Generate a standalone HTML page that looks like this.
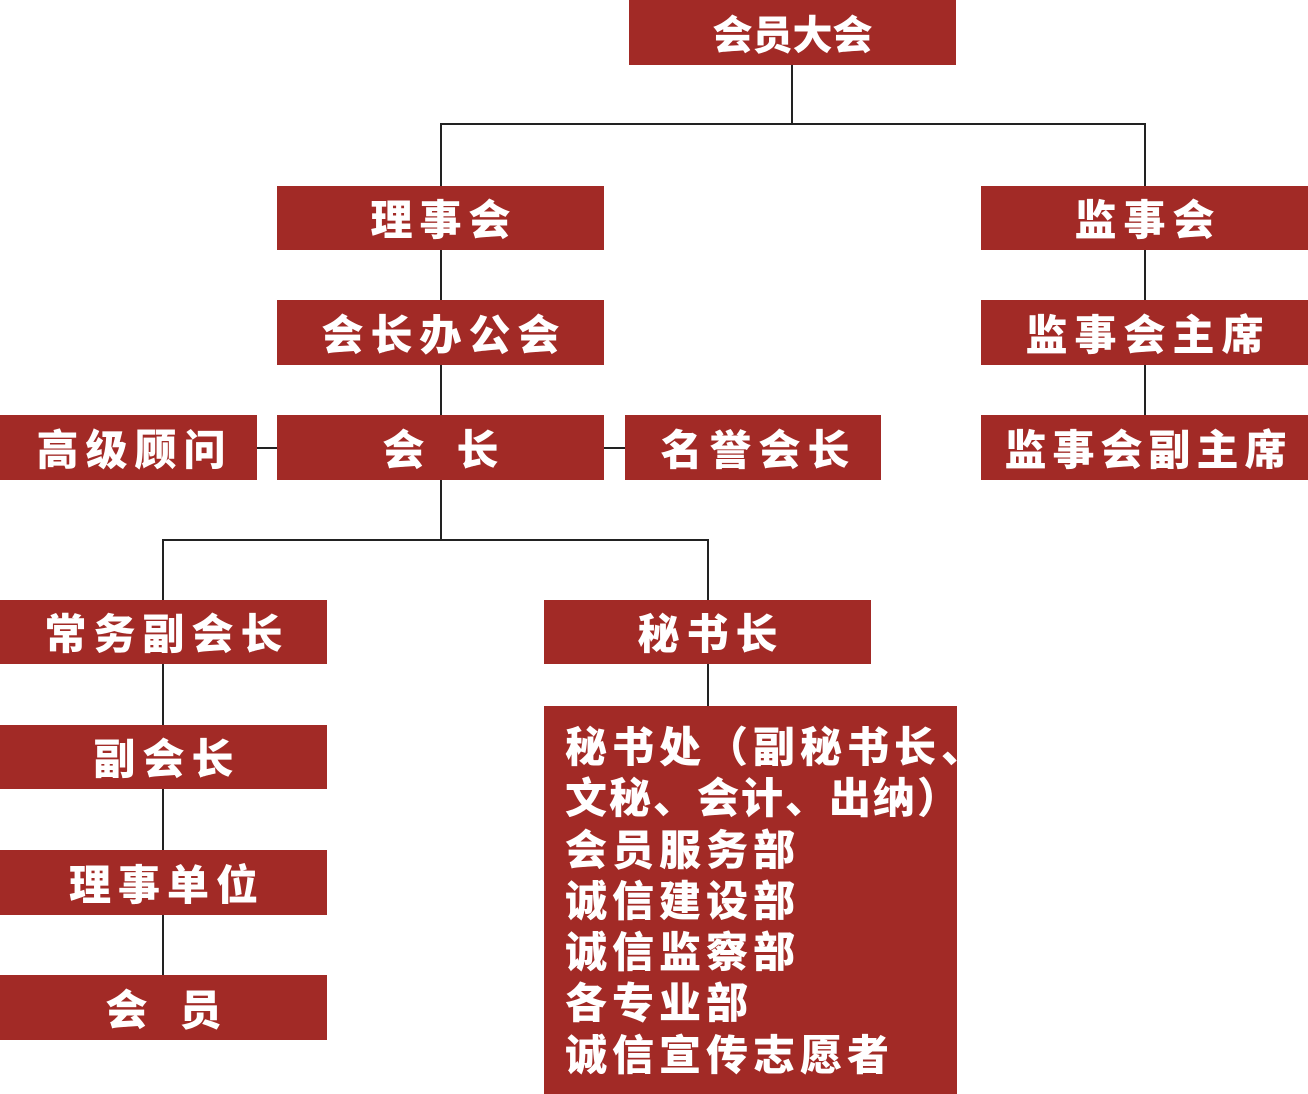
<!DOCTYPE html>
<html><head><meta charset="utf-8">
<style>
html,body{margin:0;padding:0;background:#fff;}
body{width:1308px;height:1094px;position:relative;overflow:hidden;font-family:"Liberation Sans","Noto Sans CJK SC",sans-serif;}
.b{position:absolute;background:#a22a26;color:#fff;font-weight:900;font-size:42px;text-align:center;white-space:nowrap;letter-spacing:7px;padding-left:7px;box-sizing:border-box;font-family:"Noto Sans CJK SC","WenQuanYi Zen Hei",sans-serif;}
.l{position:absolute;background:#222;}
.h{height:2px;}
.v{width:2px;}
.big{position:absolute;left:544px;top:706px;width:413px;height:388px;background:#a22a26;color:#fff;font-weight:900;font-size:42px;font-family:"Noto Sans CJK SC","WenQuanYi Zen Hei",sans-serif;white-space:nowrap;box-sizing:border-box;padding-left:21px;padding-top:13px;line-height:51.3px;letter-spacing:5px;}
</style></head><body>
<!-- lines -->
<div class="l v" style="left:791px;top:65px;height:60px"></div>
<div class="l h" style="left:440px;top:123px;width:706px"></div>
<div class="l v" style="left:440px;top:123px;height:63px"></div>
<div class="l v" style="left:1144px;top:123px;height:63px"></div>
<div class="l v" style="left:440px;top:250px;height:50px"></div>
<div class="l v" style="left:440px;top:365px;height:50px"></div>
<div class="l v" style="left:440px;top:480px;height:60px"></div>
<div class="l v" style="left:1144px;top:250px;height:50px"></div>
<div class="l v" style="left:1144px;top:365px;height:50px"></div>
<div class="l h" style="left:257px;top:447px;width:20px"></div>
<div class="l h" style="left:604px;top:447px;width:21px"></div>
<div class="l h" style="left:162px;top:539px;width:547px"></div>
<div class="l v" style="left:162px;top:539px;height:61px"></div>
<div class="l v" style="left:707px;top:539px;height:61px"></div>
<div class="l v" style="left:162px;top:664px;height:61px"></div>
<div class="l v" style="left:162px;top:789px;height:61px"></div>
<div class="l v" style="left:162px;top:915px;height:60px"></div>
<div class="l v" style="left:707px;top:664px;height:42px"></div>

<!-- boxes -->
<div class="b" style="left:629px;top:0;width:327px;height:65px;line-height:65px;letter-spacing:0;padding-left:0;font-size:40px">会员大会</div>
<div class="b" style="left:277px;top:186px;width:327px;height:64px;line-height:64px">理事会</div>
<div class="b" style="left:981px;top:186px;width:327px;height:64px;line-height:64px">监事会</div>
<div class="b" style="left:277px;top:300px;width:327px;height:65px;line-height:65px">会长办公会</div>
<div class="b" style="left:981px;top:300px;width:327px;height:65px;line-height:65px">监事会主席</div>
<div class="b" style="left:0;top:415px;width:257px;height:65px;line-height:65px;padding-left:12px">高级顾问</div>
<div class="b" style="left:277px;top:415px;width:327px;height:65px;line-height:65px;letter-spacing:32px;padding-left:32px">会长</div>
<div class="b" style="left:625px;top:415px;width:256px;height:65px;line-height:65px;padding-left:11px">名誉会长</div>
<div class="b" style="left:981px;top:415px;width:327px;height:65px;line-height:65px;letter-spacing:6px;padding-left:8px">监事会副主席</div>
<div class="b" style="left:0;top:600px;width:327px;height:64px;line-height:64px">常务副会长</div>
<div class="b" style="left:544px;top:600px;width:327px;height:64px;line-height:64px">秘书长</div>
<div class="b" style="left:0;top:725px;width:327px;height:64px;line-height:64px">副会长</div>
<div class="b" style="left:0;top:850px;width:327px;height:65px;line-height:65px">理事单位</div>
<div class="b" style="left:0;top:975px;width:327px;height:65px;line-height:65px;letter-spacing:32px;padding-left:32px">会员</div>

<div class="big"><div>秘书处（副秘书长、</div><div style="letter-spacing:2px">文秘、会计、出纳）</div><div>会员服务部</div><div>诚信建设部</div><div>诚信监察部</div><div>各专业部</div><div>诚信宣传志愿者</div></div>
</body></html>
